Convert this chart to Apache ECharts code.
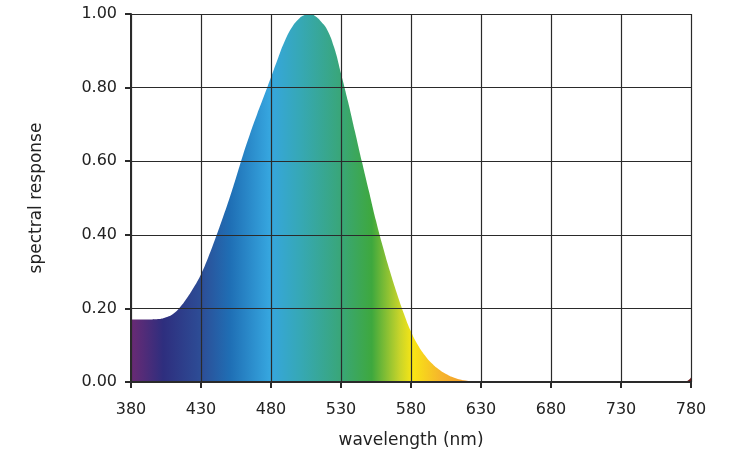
<!DOCTYPE html>
<html>
<head>
<meta charset="utf-8">
<script src="https://cdn.jsdelivr.net/npm/echarts@6/dist/echarts.min.js"></script>
<style>
  html, body { margin: 0; padding: 0; background: #ffffff; }
  #chart { width: 731px; height: 461px; }
</style>
</head>
<body>
<div id="chart"></div>
<script>
// Wavelengths (nm) and spectral response
const wavelengths = [380, 385, 390, 395, 400, 405, 410, 415, 420, 425, 430, 435, 440, 445, 450, 455, 460, 465, 470, 475, 480, 485, 490, 495, 500, 504, 508, 512, 516, 520, 525, 530, 535, 540, 545, 550, 555, 560, 565, 570, 575, 580, 585, 590, 595, 600, 605, 610, 615, 620, 625, 630, 680, 730, 775, 780];
const response    = [0.170, 0.170, 0.170, 0.170, 0.171, 0.176, 0.185, 0.203, 0.228, 0.258, 0.293, 0.337, 0.387, 0.440, 0.495, 0.555, 0.617, 0.674, 0.727, 0.777, 0.828, 0.880, 0.928, 0.964, 0.987, 0.997, 1.000, 0.993, 0.978, 0.958, 0.910, 0.838, 0.762, 0.680, 0.598, 0.518, 0.438, 0.366, 0.300, 0.240, 0.185, 0.137, 0.100, 0.072, 0.050, 0.034, 0.022, 0.013, 0.007, 0.0035, 0.001, 0.0, 0.0, 0.0, 0.0, 0.012];
const xTickLabels = ['380', '430', '480', '530', '580', '630', '680', '730', '780'];
const yTickLabels = ['0.00', '0.20', '0.40', '0.60', '0.80', '1.00'];

const X0 = 380;       // first wavelength on the axis
const XSTEP = 50;
const FONT = 'DejaVu Sans';

const chart = echarts.init(document.getElementById('chart'), null, { renderer: 'canvas' });

const seriesData = wavelengths.map((w, i) => [w - X0, response[i]]);

const gradient = new echarts.graphic.LinearGradient(0, 0, 1, 0, [
  { offset: 0.0,    color: '#6a2a74' },
  { offset: 0.0575, color: '#2e2e7e' },
  { offset: 0.125,  color: '#2d4d96' },
  { offset: 0.1775, color: '#1f6fb5' },
  { offset: 0.2475, color: '#36a6df' },
  { offset: 0.3025, color: '#36a8b5' },
  { offset: 0.3725, color: '#39a67a' },
  { offset: 0.43,   color: '#3ea83e' },
  { offset: 0.48,   color: '#c8d42a' },
  { offset: 0.5025, color: '#f8e614' },
  { offset: 0.5525, color: '#f6b52c' },
  { offset: 0.6125, color: '#f0962a' },
  { offset: 0.8,    color: '#c0392b' },
  { offset: 1.0,    color: '#6b1a1a' }
]);

chart.setOption({
  backgroundColor: '#ffffff',
  animation: false,
  grid: { left: 131, right: 40, top: 14, bottom: 79, containLabel: false },
  xAxis: {
    type: 'value',
    min: 0,
    max: 400,
    interval: XSTEP,
    z: 5,
    name: 'wavelength (nm)',
    nameLocation: 'middle',
    nameGap: 50,
    nameTextStyle: { fontFamily: FONT, fontSize: 17, color: '#222' },
    axisLine: { show: true, lineStyle: { color: '#2a2a2a', width: 2 } },
    axisTick: { show: true, length: 6, lineStyle: { color: '#2a2a2a', width: 2 } },
    axisLabel: {
      margin: 20,
      fontFamily: FONT, fontSize: 16, color: '#222',
      formatter: v => xTickLabels[Math.round(v / XSTEP)]
    },
    splitLine: { show: true, lineStyle: { color: '#2a2a2a', width: 1.2 } }
  },
  yAxis: {
    type: 'value',
    min: 0,
    max: 1,
    interval: 0.2,
    z: 5,
    name: 'spectral response',
    nameLocation: 'middle',
    nameGap: 86,
    nameRotate: 90,
    nameTextStyle: { fontFamily: FONT, fontSize: 17, color: '#222' },
    axisLine: { show: true, lineStyle: { color: '#2a2a2a', width: 2 } },
    axisTick: { show: true, length: 6, lineStyle: { color: '#2a2a2a', width: 2 } },
    axisLabel: {
      margin: 14,
      fontFamily: FONT, fontSize: 16, color: '#222',
      formatter: v => yTickLabels[Math.round(v / 0.2)]
    },
    splitLine: { show: true, lineStyle: { color: '#2a2a2a', width: 1.2 } }
  },
  series: [{
    type: 'line',
    data: seriesData,
    z: 1,
    smooth: 0.5,
    symbol: 'none',
    lineStyle: { width: 0 },
    areaStyle: { color: gradient, opacity: 1 }
  }]
});
</script>
</body>
</html>
